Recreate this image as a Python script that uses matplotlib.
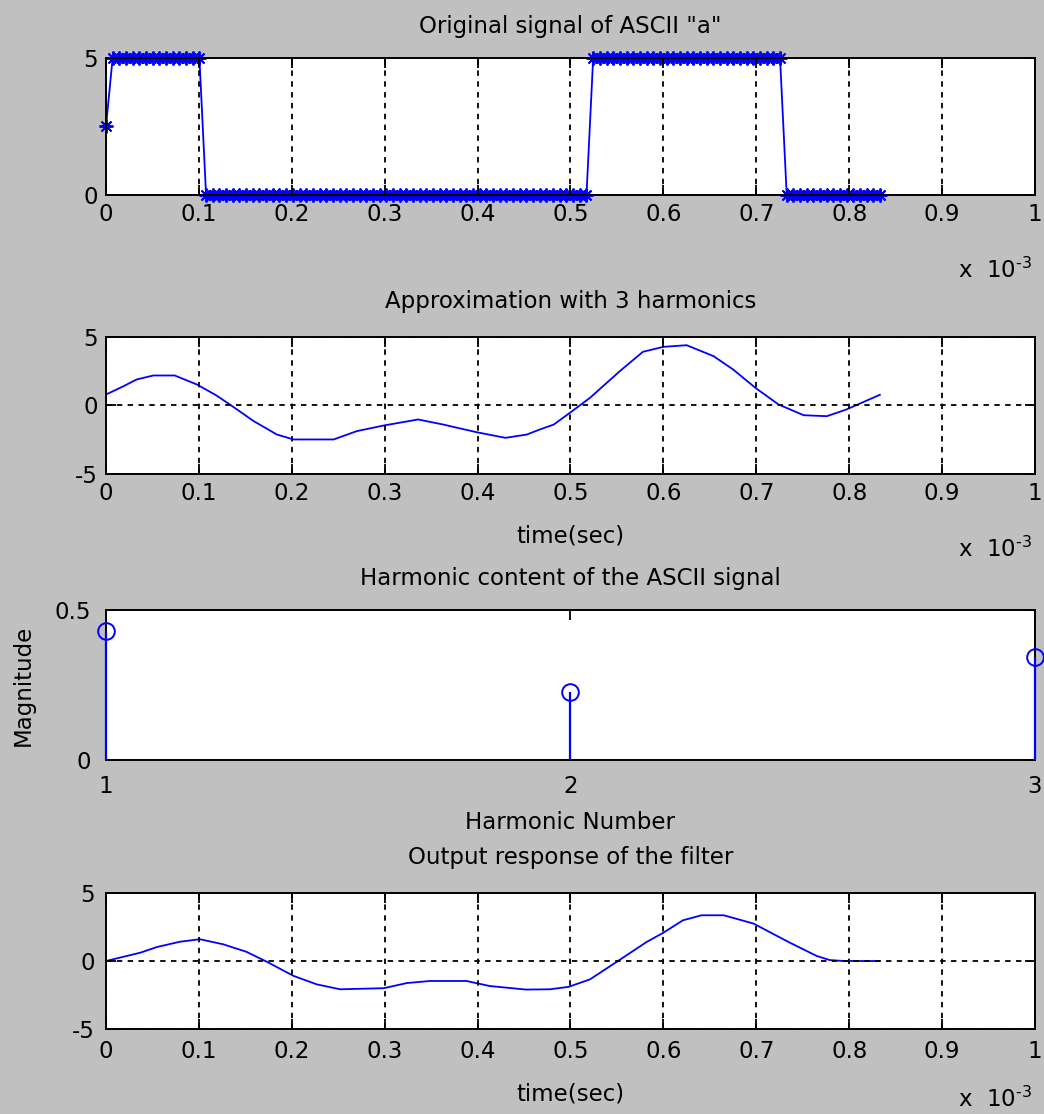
import numpy as np
import matplotlib
matplotlib.use("Agg")
import matplotlib.pyplot as plt
from matplotlib.ticker import FormatStrFormatter

# ---------------------------------------------------------------------------
# Data
# ---------------------------------------------------------------------------
# ASCII "a" sent LSB first, 8 bits over 0.8333 ms, 117 samples
BITS       = [1, 0, 0, 0, 0, 1, 1, 0]
LEVEL_HIGH = 5.0
FRAME_MS   = 0.8333
N_SAMPLES  = 117
FIRST_VAL  = 2.5          # first sample sits half way up

# approximation with 3 harmonics (time in ms, volts)
APPROX_T = [0.000, 0.019, 0.033, 0.051, 0.074, 0.098, 0.119, 0.137, 0.159,
            0.184, 0.202, 0.245, 0.270, 0.299, 0.336, 0.363, 0.399, 0.430,
            0.453, 0.467, 0.482, 0.498, 0.521, 0.553, 0.578, 0.600, 0.625,
            0.654, 0.675, 0.699, 0.724, 0.751, 0.776, 0.797, 0.833]
APPROX_V = [0.80, 1.41, 1.90, 2.19, 2.19, 1.53, 0.73, -0.10, -1.14,
            -2.12, -2.48, -2.48, -1.87, -1.46, -1.02, -1.39, -1.95, -2.36,
            -2.12, -1.75, -1.39, -0.60, 0.56, 2.50, 3.92, 4.28, 4.40,
            3.60, 2.63, 1.29, 0.07, -0.71, -0.78, -0.29, 0.78]

# harmonic magnitudes
HARMONICS  = [1, 2, 3]
MAGNITUDES = [0.43, 0.227, 0.343]

# filter output
OUT_T = [0.000, 0.037, 0.055, 0.080, 0.101, 0.126, 0.151, 0.173, 0.202,
         0.227, 0.252, 0.299, 0.324, 0.349, 0.388, 0.413, 0.452, 0.478,
         0.498, 0.521, 0.550, 0.582, 0.600, 0.621, 0.641, 0.665, 0.697,
         0.736, 0.765, 0.779, 0.794, 0.833]
OUT_V = [0.00, 0.61, 1.03, 1.42, 1.60, 1.23, 0.68, -0.05, -1.10,
         -1.72, -2.08, -2.00, -1.62, -1.47, -1.47, -1.84, -2.10, -2.08,
         -1.90, -1.35, -0.05, 1.40, 2.08, 2.99, 3.36, 3.36, 2.75,
         1.35, 0.37, 0.07, 0.00, 0.00]

TIME_TICKS = [0, 0.1, 0.2, 0.3, 0.4, 0.5, 0.6, 0.7, 0.8, 0.9, 1]

# square wave samples from the bit pattern
t_sig = np.linspace(0, FRAME_MS, N_SAMPLES)
bit_idx = np.minimum((t_sig / (FRAME_MS / len(BITS))).astype(int), len(BITS) - 1)
sig = np.array(BITS, dtype=float)[bit_idx] * LEVEL_HIGH
sig[0] = FIRST_VAL

# ---------------------------------------------------------------------------
# Plot
# ---------------------------------------------------------------------------
plt.rcParams["font.family"] = ["DejaVu Sans"]
plt.rcParams["axes.unicode_minus"] = False
FS = 16.5
BG = "#c0c0c0"
BLUE = "#0000ff"

fig = plt.figure(figsize=(10.44, 11.14), dpi=100, facecolor=BG)

L, W = 0.1015, 0.8899
ax1 = fig.add_axes([L, 0.8250, W, 0.1229])
ax2 = fig.add_axes([L, 0.5745, W, 0.1230])
ax3 = fig.add_axes([L, 0.3178, W, 0.1346])
ax4 = fig.add_axes([L, 0.0763, W, 0.1221])


def style(ax, grid=True, pad=6):
    ax.set_facecolor("white")
    for sp in ax.spines.values():
        sp.set_linewidth(1.4)
        sp.set_color("black")
    ax.tick_params(direction="in", length=7, width=1.3, top=True, right=True,
                   labelsize=FS, pad=pad, colors="black")
    if grid:
        ax.grid(True, color="black", lw=1.3, linestyle=(0, (3, 3)))
        ax.set_axisbelow(False)


def time_axis(ax, ypos=-0.55):
    ax.set_xlim(0, 1)
    ax.set_xticks(TIME_TICKS)
    ax.xaxis.set_major_formatter(FormatStrFormatter("%g"))
    ax.text(0.917, ypos, r"x  10$^{\text{-3}}$", transform=ax.transAxes,
            ha="left", va="center", fontsize=FS)


# 1 original signal
style(ax1)
ax1.plot(t_sig, sig, color=BLUE, lw=1.3, marker=(8, 2, 0), ms=10, mew=1.4,
         clip_on=False)
ax1.set_ylim(0, 5)
ax1.set_yticks([0, 5])
time_axis(ax1)
ax1.set_title('Original signal of ASCII "a"', fontsize=FS, pad=18)

# 2 three harmonics
style(ax2)
ax2.plot(APPROX_T, APPROX_V, color=BLUE, lw=1.3)
ax2.set_ylim(-5, 5)
ax2.set_yticks([-5, 0, 5])
time_axis(ax2)
ax2.set_xlabel("time(sec)", fontsize=FS, labelpad=14)
ax2.set_title("Approximation with 3 harmonics", fontsize=FS, pad=21)

# 3 harmonic content
style(ax3, grid=False, pad=11)
ml, sl, bl = ax3.stem(HARMONICS, MAGNITUDES, basefmt=" ")
plt.setp(sl, color=BLUE, lw=1.6, clip_on=False, zorder=4)
plt.setp(ml, color=BLUE, marker="o", ms=12, mfc="none", mew=1.4,
         clip_on=False, zorder=5)
ax3.set_xlim(1, 3)
ax3.set_ylim(0, 0.5)
ax3.set_xticks(HARMONICS)
ax3.set_yticks([0, 0.5])
ax3.yaxis.set_major_formatter(FormatStrFormatter("%g"))
ax3.set_xlabel("Harmonic Number", fontsize=FS, labelpad=9)
ax3.set_ylabel("Magnitude", fontsize=FS, labelpad=14)
ax3.set_title("Harmonic content of the ASCII signal", fontsize=FS, pad=18)

# 4 filter output
style(ax4, pad=8)
ax4.plot(OUT_T, OUT_V, color=BLUE, lw=1.3)
ax4.set_ylim(-5, 5)
ax4.set_yticks([-5, 0, 5])
time_axis(ax4, ypos=-0.52)
ax4.set_xlabel("time(sec)", fontsize=FS, labelpad=14)
ax4.set_title("Output response of the filter", fontsize=FS, pad=21)

fig.savefig("out.png", dpi=100, facecolor=fig.get_facecolor())
